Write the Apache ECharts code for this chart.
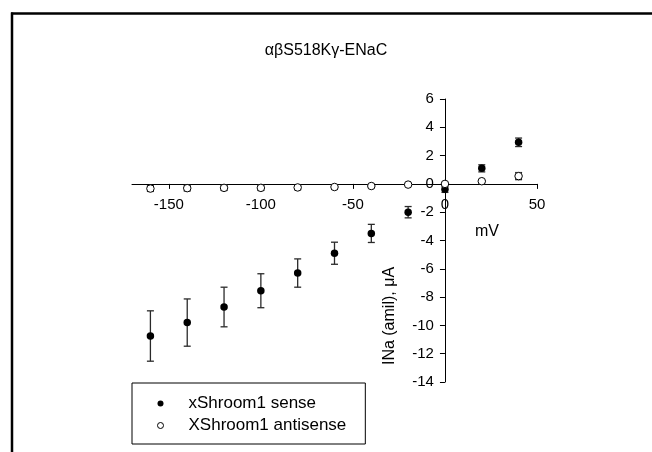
<!DOCTYPE html>
<html>
<head>
<meta charset="utf-8">
<script src="https://cdn.jsdelivr.net/npm/echarts@6/dist/echarts.min.js"></script>
<style>html,body{margin:0;padding:0;background:#fff}#c{width:652px;height:452px}</style>
</head>
<body>
<div id="c"></div>
<script>
var voltages = [-160, -140, -120, -100, -80, -60, -40, -20, 0, 20, 40];
var senseMean = [-10.75, -9.8, -8.7, -7.55, -6.3, -4.9, -3.5, -2.0, -0.38, 1.1, 2.94];
var senseErr = [1.78, 1.67, 1.4, 1.2, 1.0, 0.78, 0.64, 0.4, 0.22, 0.25, 0.3];
var antiMean = [-0.33, -0.3, -0.28, -0.28, -0.25, -0.22, -0.15, -0.05, 0.0, 0.19, 0.55];
var antiErr = [0.2, 0.2, 0.18, 0.18, 0.16, 0.16, 0.1, 0.05, 0.05, 0.05, 0.25];
var xTicks = [-150, -100, -50, 0, 50];
var yTicks = [-14, -12, -10, -8, -6, -4, -2, 0, 2, 4, 6];
var seriesNames = ['xShroom1 sense', 'XShroom1 antisense'];

function pairs(m) { return voltages.map(function (v, i) { return [v, m[i]]; }); }
function errData(m, e) { return voltages.map(function (v, i) { return [v, m[i] - e[i], m[i] + e[i]]; }); }

function errRender(params, api) {
  var x = api.value(0);
  var lo = api.coord([x, api.value(1)]);
  var hi = api.coord([x, api.value(2)]);
  var w = 3.5;
  var st = { stroke: '#2a2a2a', lineWidth: 1.3 };
  return {
    type: 'group',
    children: [
      { type: 'line', shape: { x1: lo[0], y1: lo[1], x2: hi[0], y2: hi[1] }, style: st },
      { type: 'line', shape: { x1: lo[0] - w, y1: lo[1], x2: lo[0] + w, y2: lo[1] }, style: st },
      { type: 'line', shape: { x1: hi[0] - w, y1: hi[1], x2: hi[0] + w, y2: hi[1] }, style: st }
    ]
  };
}

var chart = echarts.init(document.getElementById('c'), null, { renderer: 'canvas' });
var font = 'Arial, "Liberation Sans", sans-serif';
chart.setOption({
  animation: false,
  backgroundColor: '#fff',
  textStyle: { fontFamily: font },
  title: {
    text: 'αβS518Kγ-ENaC',
    left: 'center', top: 38,
    textStyle: { fontFamily: font, fontSize: 16, fontWeight: 'normal', color: '#000' }
  },
  grid: { left: 132, right: 115, top: 99, bottom: 70, containLabel: false },
  xAxis: {
    type: 'value', min: -170, max: 50,
    axisLine: { onZero: true, lineStyle: { color: '#000', width: 1 } },
    axisTick: { show: true, length: 5, customValues: xTicks, lineStyle: { color: '#000' } },
    axisLabel: { show: false },
    splitLine: { show: false }
  },
  yAxis: {
    type: 'value', min: -14, max: 6, interval: 2,
    axisLine: { onZero: true, lineStyle: { color: '#000', width: 1 } },
    axisTick: { show: true, length: 5, lineStyle: { color: '#000' } },
    axisLabel: { show: false },
    splitLine: { show: false }
  },
  legend: {
    orient: 'vertical', left: 132, top: 383,
    data: [
      { name: seriesNames[0], icon: 'circle', itemStyle: { color: '#000', borderColor: '#000', borderWidth: 0 } },
      { name: seriesNames[1], icon: 'circle', itemStyle: { color: '#fff', borderColor: '#000', borderWidth: 1 } }
    ],
    itemWidth: 6, itemHeight: 6, itemGap: 5,
    padding: [12, 19, 10, 25],
    borderColor: '#000', borderWidth: 1,
    textStyle: { fontFamily: font, fontSize: 17, color: '#000', padding: [0, 0, 0, 20], lineHeight: 15 }
  },
  series: [
    { type: 'custom', name: 'errS', renderItem: errRender, data: errData(senseMean, senseErr), z: 2, silent: true },
    { type: 'custom', name: 'errA', renderItem: errRender, data: errData(antiMean, antiErr), z: 2, silent: true },
    { type: 'scatter', name: seriesNames[0], data: pairs(senseMean), symbol: 'circle', symbolSize: 7.5,
      itemStyle: { color: '#000', opacity: 1 }, z: 3 },
    { type: 'scatter', name: seriesNames[1], data: pairs(antiMean), symbol: 'circle', symbolSize: 7.5,
      itemStyle: { color: '#fff', borderColor: '#000', borderWidth: 1, opacity: 1 }, z: 3 }
  ]
});

var graphics = [
  { type: 'line', shape: { x1: 11, y1: 13.5, x2: 652, y2: 13.5 }, style: { stroke: '#000', lineWidth: 2.5 } },
  { type: 'line', shape: { x1: 12, y1: 12.5, x2: 12, y2: 452 }, style: { stroke: '#000', lineWidth: 2.5 } },
  { type: 'text', x: 487, y: 232, style: { text: 'mV', fontFamily: font, fontSize: 16, fill: '#000', align: 'center', verticalAlign: 'middle' } },
  { type: 'text', x: 390, y: 316, rotation: Math.PI / 2, style: { text: 'INa (amil), μA', fontFamily: font, fontSize: 16, fill: '#000', align: 'center', verticalAlign: 'middle' } }
];
xTicks.forEach(function (v) {
  var p = chart.convertToPixel({ gridIndex: 0 }, [v, 0]);
  graphics.push({ type: 'text', x: p[0], y: p[1] + 21, z: 5,
    style: { text: String(v), fontFamily: font, fontSize: 15, fill: '#000', align: 'center', verticalAlign: 'middle' } });
});
yTicks.forEach(function (v) {
  var p = chart.convertToPixel({ gridIndex: 0 }, [0, v]);
  graphics.push({ type: 'text', x: p[0] - 11, y: p[1], z: 5,
    style: { text: String(v), fontFamily: font, fontSize: 15, fill: '#000', align: 'right', verticalAlign: 'middle' } });
});
chart.setOption({ graphic: graphics });
</script>
</body>
</html>
